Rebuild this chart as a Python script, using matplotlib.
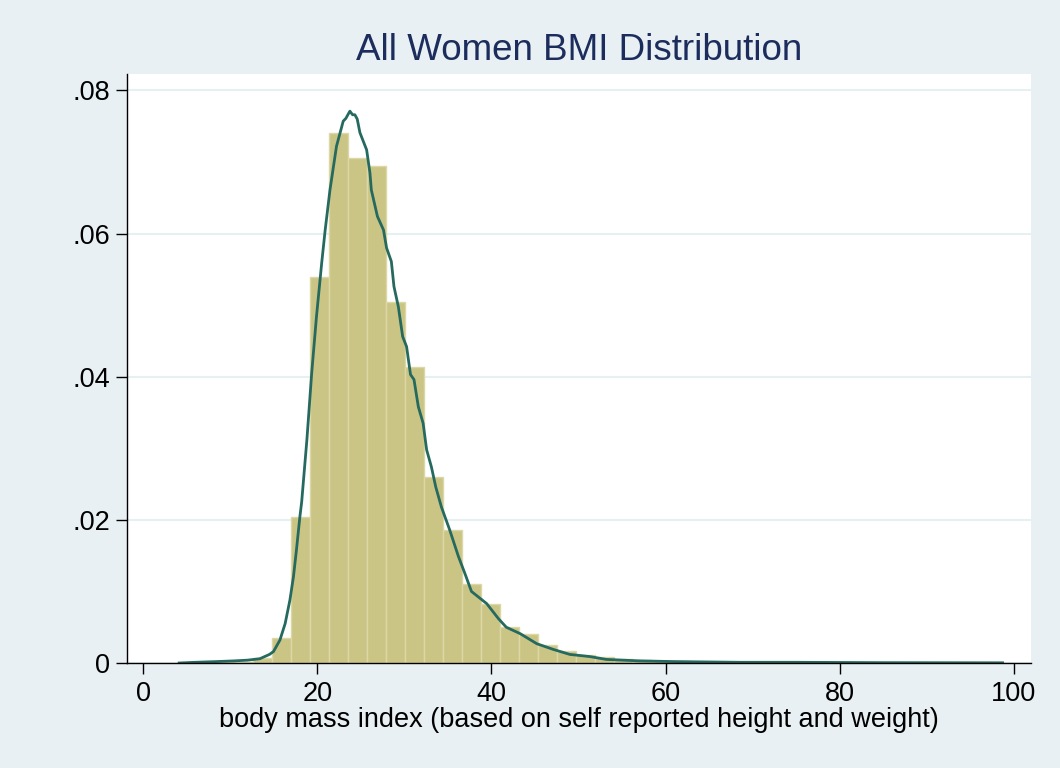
import matplotlib
matplotlib.use('Agg')
import matplotlib.pyplot as plt
import numpy as np

plt.rcParams['font.family'] = ['Liberation Sans', 'DejaVu Sans']

# histogram bins (Stata style, 44 bins)
bin_start = 3.83
bin_width = 2.182
densidad = [0.00005, 0.0001, 0.0002, 0.0002, 0.0007, 0.0035, 0.0204, 0.0540,
            0.0740, 0.0706, 0.0694, 0.0504, 0.0414, 0.0260, 0.0186, 0.0111,
            0.0083, 0.0050, 0.0041, 0.0025, 0.0017, 0.0011, 0.0008, 0.00055,
            0.0004, 0.0003, 0.0003, 0.0002, 0.00015, 0.0001, 0.0001, 0.0001,
            0.00008, 0.00008, 0.00006, 0.00006, 0.00005, 0.00005, 0.00004,
            0.00004, 0.00003, 0.00003, 0.00003, 0.00003]

# kernel density curve
kde_x = [4.13, 6.0, 8.4, 10.5, 12.0, 13.4, 14.5, 14.96, 15.7, 16.3, 16.85,
         17.26, 17.6, 18.0, 18.2, 18.8, 19.35, 19.9, 20.5, 20.9, 21.45, 22.2,
         22.97, 23.28, 23.55, 23.74, 24.05, 24.31, 24.58, 24.89, 25.66, 26.04,
         26.2, 26.9, 27.6, 27.95, 28.5, 28.8, 29.3, 29.8, 30.25, 30.7, 31.1,
         31.6, 32.15, 32.55, 33.1, 33.6, 34.25, 35.2, 36.2, 36.95, 37.7, 39.45,
         40.8, 41.7, 43.3, 45.2, 47.1, 49.0, 51.3, 53.2, 57.0, 61.0, 68.5,
         75.0, 85.0, 98.7]
kde_y = [0.0, 0.0001, 0.0002, 0.0003, 0.0004, 0.0006, 0.0012, 0.0016, 0.0032,
         0.0055, 0.0088, 0.0121, 0.0158, 0.0205, 0.0225, 0.0312, 0.0405,
         0.0484, 0.0559, 0.0605, 0.0661, 0.0722, 0.0757, 0.0761, 0.0767,
         0.0771, 0.0766, 0.0766, 0.0760, 0.0741, 0.0717, 0.0685, 0.0661,
         0.0624, 0.0605, 0.0580, 0.0561, 0.0526, 0.0498, 0.0456, 0.0442,
         0.0403, 0.0396, 0.0358, 0.0335, 0.0298, 0.0274, 0.0246, 0.0218,
         0.0186, 0.0149, 0.0125, 0.0100, 0.0083, 0.0062, 0.0050, 0.0041,
         0.0027, 0.0019, 0.0012, 0.0009, 0.0005, 0.0003, 0.0002, 0.0001,
         0.0001, 0.00005, 0.00003]

xticks = [0, 20, 40, 60, 80, 100]
yticks = [0, 0.02, 0.04, 0.06, 0.08]
ytick_labels = ['0', '.02', '.04', '.06', '.08']

fondo = '#e8f0f3'

fig = plt.figure(figsize=(10.6, 7.68), dpi=100, facecolor=fondo)
ax = fig.add_axes([0.1195, 0.1367, 0.853, 0.7670])
ax.set_facecolor('white')

izq = bin_start + bin_width * np.arange(len(densidad))
ax.bar(izq, densidad, width=bin_width, align='edge',
       color='#cbc585', edgecolor='#dcd7a6', linewidth=1.0, zorder=2)
ax.plot(kde_x, kde_y, color='#25695f', linewidth=2.0, zorder=3)

ax.set_xlim(-1.9, 101.95)
ax.set_ylim(0, 0.0823)

ax.set_xticks(xticks)
ax.set_yticks(yticks)
ax.set_yticklabels(ytick_labels)
ax.tick_params(axis='both', direction='out', length=7.7, width=1.0,
               labelsize=19.5, color='black', pad=4)
ax.tick_params(axis='x', pad=5)

ax.grid(True, axis='y', color='#e6eff2', linewidth=1.5, zorder=0)
ax.set_axisbelow(True)

for s in ['top', 'right']:
    ax.spines[s].set_visible(False)
for s in ['left', 'bottom']:
    ax.spines[s].set_linewidth(1.0)
    ax.spines[s].set_zorder(4)

ax.set_xlabel('body mass index (based on self reported height and weight)',
              fontsize=19.5, labelpad=0)
ax.set_title('All Women BMI Distribution', fontsize=26.5, color='#1c2c5c', pad=10)

fig.savefig('out.png', dpi=100, facecolor=fondo)
